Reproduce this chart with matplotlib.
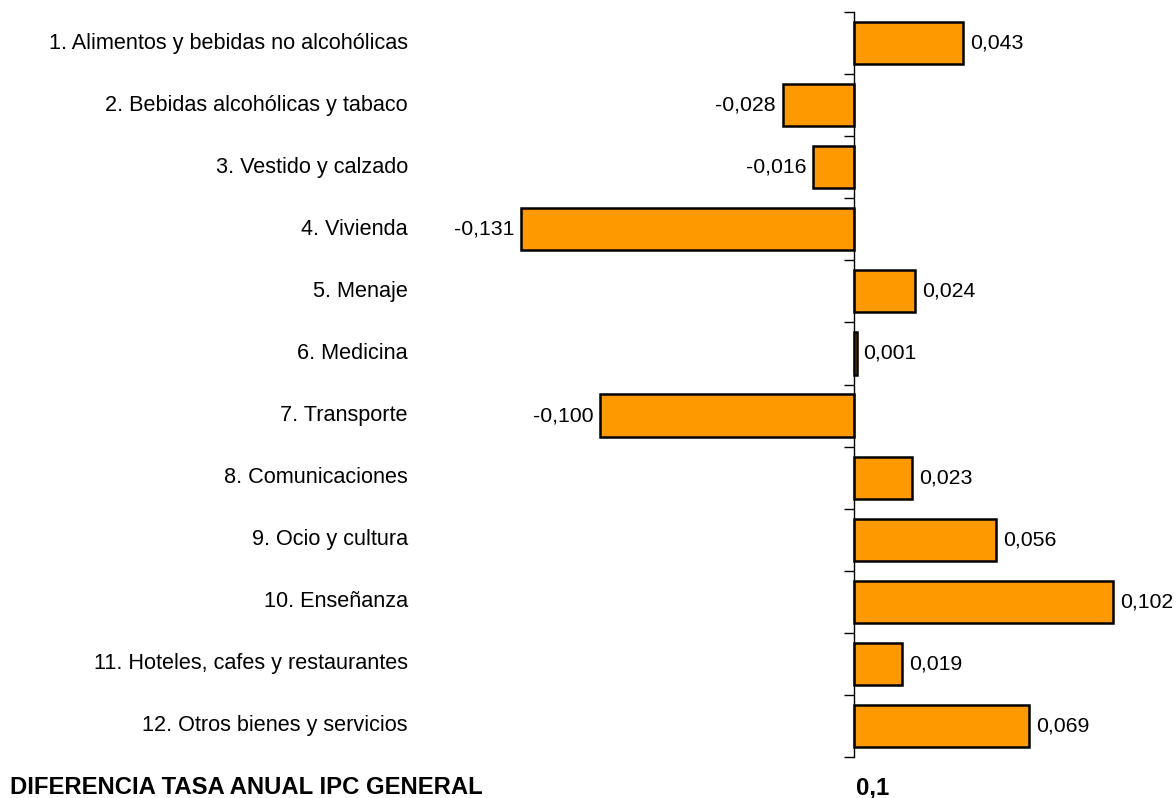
import matplotlib
matplotlib.use("Agg")
import matplotlib.pyplot as plt
import numpy as np

categories = [
    "1. Alimentos y bebidas no alcohólicas",
    "2. Bebidas alcohólicas y tabaco",
    "3. Vestido y calzado",
    "4. Vivienda",
    "5. Menaje",
    "6. Medicina",
    "7. Transporte",
    "8. Comunicaciones",
    "9. Ocio y cultura",
    "10. Enseñanza",
    "11. Hoteles, cafes y restaurantes",
    "12. Otros bienes y servicios",
]
values = [0.043, -0.028, -0.016, -0.131, 0.024, 0.001, -0.100, 0.023, 0.056, 0.102, 0.019, 0.069]
footer_label = "DIFERENCIA TASA ANUAL IPC GENERAL"
footer_value = "0,1"

plt.rcParams['font.family'] = ['Liberation Sans', 'DejaVu Sans']

W, H = 1176, 798
fig = plt.figure(figsize=(W/100, H/100), dpi=100)
x0px = 854
scale = 2540.0
xmin, xmax = -0.14, 0.12
left_px = x0px + xmin*scale
right_px = x0px + xmax*scale
top_px, bot_px = 12, 757
ax = fig.add_axes([left_px/W, 1-bot_px/H, (right_px-left_px)/W, (bot_px-top_px)/H])

n = len(categories)
y = np.arange(n)
ax.barh(y, values, height=0.68, color='#FF9900', edgecolor='black', linewidth=1.8, zorder=2)
ax.set_xlim(xmin, xmax)
ax.set_ylim(n-0.5, -0.5)

for s in ['top', 'right', 'bottom']:
    ax.spines[s].set_visible(False)
ax.spines['left'].set_position(('data', 0))
ax.spines['left'].set_linewidth(1.0)
ax.spines['left'].set_zorder(3)
ax.set_xticks([])
ax.set_yticks(np.arange(n+1)-0.5)
ax.set_yticklabels([])
ax.tick_params(axis='y', direction='out', length=7, width=1.0)

fs = 15.3
off = 7/scale
for yi, v in zip(y, values):
    txt = f"{v:.3f}".replace('.', ',')
    if v >= 0:
        ax.text(v+off, yi, txt, ha='left', va='center', fontsize=fs)
    else:
        ax.text(v-off, yi, txt, ha='right', va='center', fontsize=fs)

for yi, c in zip(y, categories):
    fig.text(408/W, 1-(top_px+(yi+0.5)*(bot_px-top_px)/n)/H, c, ha='right', va='center', fontsize=15.6)

fig.text(10/W, 1-788/H, footer_label, ha='left', va='center', fontsize=17.2, fontweight='bold')
fig.text(856/W, 1-788/H, footer_value, ha='left', va='center', fontsize=17.2, fontweight='bold')

fig.savefig("out.png", dpi=100)
